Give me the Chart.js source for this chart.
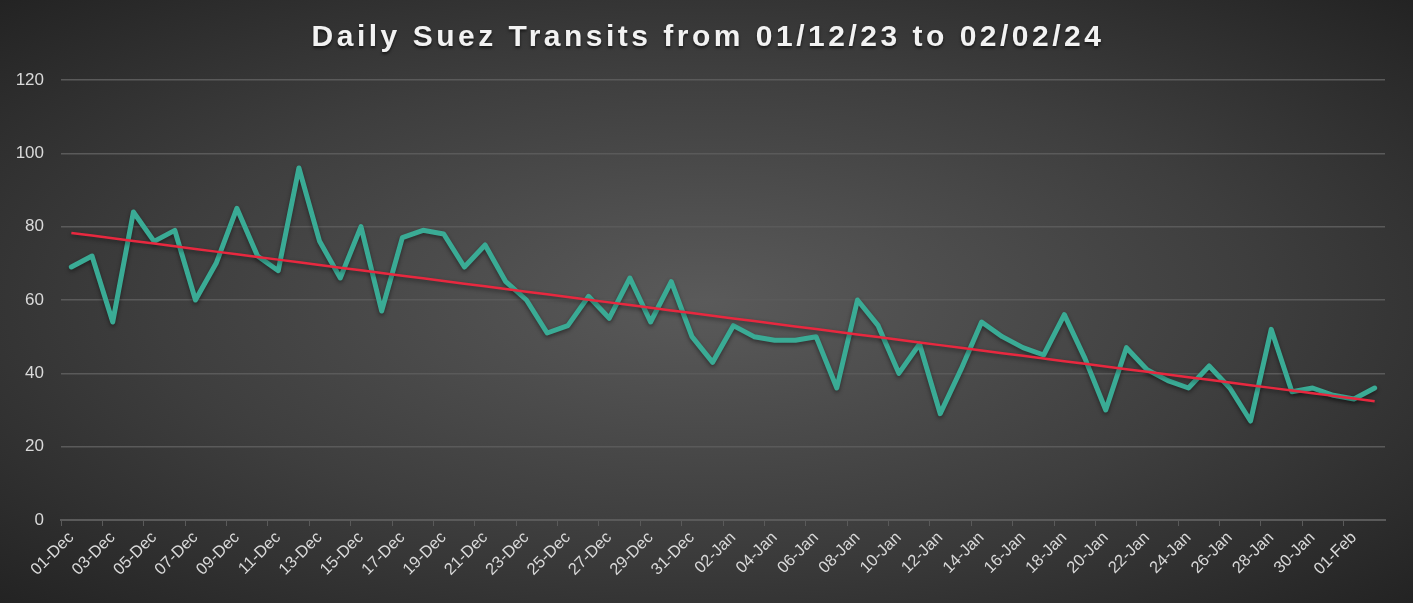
<!DOCTYPE html>
<html>
<head>
<meta charset="utf-8">
<script src="https://cdn.jsdelivr.net/npm/chart.js@4.4.1/dist/chart.umd.min.js"></script>
<style>
  html, body { margin: 0; padding: 0; background: #2b2b2b; }
  #wrap {
    width: 1413px; height: 603px;
    background: radial-gradient(ellipse farthest-corner at 50% 50%, #5a5a5a 0%, #3e3e3e 55%, #232323 100%);
  }
</style>
</head>
<body>
<div id="wrap"><canvas id="transitChart" width="1413" height="603"></canvas></div>
<script>
// Dates shown on the x axis (01-Dec-23 .. 02-Feb-24)
const dayLabels = [
  '01-Dec','02-Dec','03-Dec','04-Dec','05-Dec','06-Dec','07-Dec','08-Dec','09-Dec','10-Dec',
  '11-Dec','12-Dec','13-Dec','14-Dec','15-Dec','16-Dec','17-Dec','18-Dec','19-Dec','20-Dec',
  '21-Dec','22-Dec','23-Dec','24-Dec','25-Dec','26-Dec','27-Dec','28-Dec','29-Dec','30-Dec',
  '31-Dec','01-Jan','02-Jan','03-Jan','04-Jan','05-Jan','06-Jan','07-Jan','08-Jan','09-Jan',
  '10-Jan','11-Jan','12-Jan','13-Jan','14-Jan','15-Jan','16-Jan','17-Jan','18-Jan','19-Jan',
  '20-Jan','21-Jan','22-Jan','23-Jan','24-Jan','25-Jan','26-Jan','27-Jan','28-Jan','29-Jan',
  '30-Jan','31-Jan','01-Feb','02-Feb'
];

// Daily transits
const transits = [
  69, 72, 54, 84, 76, 79, 60, 70, 85, 72,
  68, 96, 76, 66, 80, 57, 77, 79, 78, 69,
  75, 65, 60, 51, 53, 61, 55, 66, 54, 65,
  50, 43, 53, 50, 49, 49, 50, 36, 60, 53,
  40, 48, 29, 41, 54, 50, 47, 45, 56, 44,
  30, 47, 41, 38, 36, 42, 36, 27, 52, 35,
  36, 34, 33, 36
];

const yTicks = [0, 20, 40, 60, 80, 100, 120];

// linear trendline (least squares) like the Excel one
function linearTrend(values) {
  const n = values.length;
  let sx = 0, sy = 0, sxy = 0, sxx = 0;
  values.forEach((v, i) => { sx += i; sy += v; sxy += i * v; sxx += i * i; });
  const slope = (n * sxy - sx * sy) / (n * sxx - sx * sx);
  const icpt = (sy - slope * sx) / n;
  return values.map((v, i) => icpt + slope * i);
}

const textColor = '#d9d9d9';
const gridColor = '#5a5a5a';

// soft shadow under the lines
const shadowPlugin = {
  id: 'lineShadow',
  beforeDatasetDraw(chart) {
    const ctx = chart.ctx;
    ctx.save();
    ctx.shadowColor = 'rgba(0,0,0,0.45)';
    ctx.shadowBlur = 4;
    ctx.shadowOffsetY = 2;
  },
  afterDatasetDraw(chart) {
    chart.ctx.restore();
  }
};

// title drawn by hand so it can get letter spacing and a shadow
const titlePlugin = {
  id: 'spacedTitle',
  afterDraw(chart) {
    const ctx = chart.ctx;
    ctx.save();
    ctx.font = 'bold 30px "Liberation Sans", Arial, sans-serif';
    ctx.letterSpacing = '3.5px';
    ctx.fillStyle = '#f2f2f2';
    ctx.textAlign = 'center';
    ctx.textBaseline = 'alphabetic';
    ctx.shadowColor = 'rgba(0,0,0,0.6)';
    ctx.shadowBlur = 3;
    ctx.shadowOffsetY = 2;
    ctx.fillText('Daily Suez Transits from 01/12/23 to 02/02/24', 708, 46);
    ctx.restore();
  }
};

const ctx = document.getElementById('transitChart').getContext('2d');

const transitChart = new Chart(ctx, {
  type: 'line',
  data: {
    labels: dayLabels,
    datasets: [
      {
        label: 'Transits',
        data: transits,
        borderColor: '#3aab95',
        borderWidth: 5,
        pointRadius: 0,
        tension: 0,
        borderJoinStyle: 'round',
        borderCapStyle: 'round',
        order: 2
      },
      {
        label: 'Linear trend',
        data: linearTrend(transits),
        borderColor: '#e8283f',
        borderWidth: 2.5,
        pointRadius: 0,
        tension: 0,
        order: 1
      }
    ]
  },
  options: {
    responsive: false,
    animation: false,
    layout: { padding: { top: 80, right: 28, left: 0, bottom: 0 } },
    scales: {
      x: {
        offset: true,
        grid: {
          offset: true,
          drawOnChartArea: false,
          drawTicks: true,
          tickLength: 6,
          color: (c) => (c.index % 2 === 0 ? gridColor : 'rgba(0,0,0,0)')
        },
        border: { color: gridColor, width: 2 },
        ticks: {
          autoSkip: false,
          maxRotation: 45,
          minRotation: 45,
          padding: 2,
          color: textColor,
          font: { family: '"Liberation Sans", Arial, sans-serif', size: 16.5 },
          callback: function(value, index) {
            return index % 2 === 0 ? this.getLabelForValue(value) : '';
          }
        },
        afterFit(scale) { scale.height = 83; }
      },
      y: {
        min: 0,
        max: 120,
        afterBuildTicks(scale) { scale.ticks = yTicks.map(v => ({ value: v })); },
        grid: { color: gridColor, lineWidth: 1.5, drawTicks: false },
        border: { display: false },
        ticks: {
          padding: 17,
          color: textColor,
          font: { family: '"Liberation Sans", Arial, sans-serif', size: 17 }
        },
        afterFit(scale) { scale.width = 61; }
      }
    },
    plugins: {
      legend: { display: false },
      title: { display: false },
      tooltip: { enabled: false }
    }
  },
  plugins: [shadowPlugin, titlePlugin]
});
</script>
</body>
</html>
